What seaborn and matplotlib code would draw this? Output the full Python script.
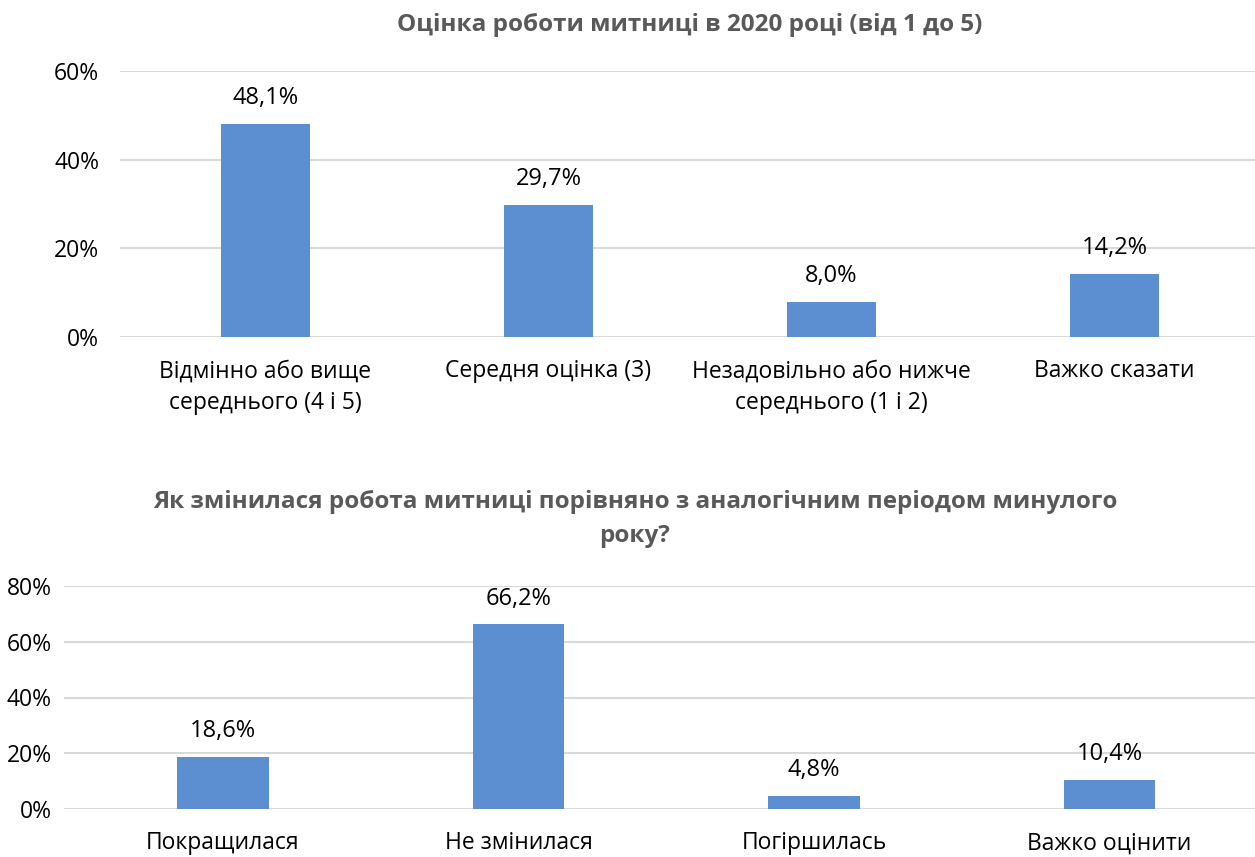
import matplotlib
matplotlib.use("Agg")
import matplotlib.pyplot as plt
import seaborn as sns
import pandas as pd

# ---- data ----
top_title = "Оцінка роботи митниці в 2020 році (від 1 до 5)"
top_categories = ["Відмінно або вище\nсереднього (4 і 5)", "Середня оцінка (3)",
                  "Незадовільно або нижче\nсереднього (1 і 2)", "Важко сказати"]
top_values = [48.1, 29.7, 8.0, 14.2]
top_ticks = [0, 20, 40, 60]

bottom_title = "Як змінилася робота митниці порівняно з аналогічним періодом минулого\nроку?"
bottom_categories = ["Покращилася", "Не змінилася", "Погіршилась", "Важко оцінити"]
bottom_values = [18.6, 66.2, 4.8, 10.4]
bottom_ticks = [0, 20, 40, 60, 80]

BAR = "#5B8FD2"
GRID = "#D9D9D9"
TITLE_C = "#595959"

sns.set_theme(style="white")
plt.rcParams['font.family'] = ['Open Sans', 'DejaVu Sans']

W, H = 1255, 857
fig = plt.figure(figsize=(W / 100, H / 100), dpi=100)


def px_axes(left, right, top, bottom):
    return fig.add_axes([left / W, 1 - bottom / H, (right - left) / W, (bottom - top) / H])


def draw(ax, cats, vals, ticks, xlim, width, ypad):
    df = pd.DataFrame({"cat": cats, "val": vals})
    sns.barplot(data=df, x="cat", y="val", ax=ax, color=BAR, width=width,
                saturation=1, edgecolor="none")
    ax.set_ylim(ticks[0], ticks[-1])
    ax.set_xlim(*xlim)
    ax.set_yticks(ticks)
    ax.set_yticklabels([f"{t}%" for t in ticks], fontsize=16.5, color="black")
    ax.tick_params(axis="x", labelsize=16.5, colors="black", pad=16, length=0)
    ax.tick_params(axis="y", pad=ypad, length=0)
    for lbl in ax.get_xticklabels():
        lbl.set_linespacing(1.45)
    ax.set_xlabel("")
    ax.set_ylabel("")
    for s in ax.spines.values():
        s.set_visible(False)
    ax.yaxis.grid(True, color=GRID, linewidth=1.5)
    ax.set_axisbelow(True)
    for c in ax.containers:
        ax.bar_label(c, labels=[f"{v:.1f}%".replace(".", ",") for v in vals],
                     padding=10, fontsize=17, color="black")


ax1 = px_axes(120, 1255, 71, 337)
draw(ax1, top_categories, top_values, top_ticks, (-0.514, 3.497), 0.315, 15)

ax2 = px_axes(64, 1255, 586, 809)
draw(ax2, bottom_categories, bottom_values, bottom_ticks, (-0.538, 3.492), 0.31, 9)

fig.text(690 / W, 1 - 25 / H, top_title, ha="center", va="center",
         fontsize=17.5, fontweight="bold", color=TITLE_C)
fig.text(635 / W, 1 - 519 / H, bottom_title, ha="center", va="center",
         fontsize=17.5, fontweight="bold", color=TITLE_C, linespacing=1.55)

fig.savefig("out.png", dpi=100)
